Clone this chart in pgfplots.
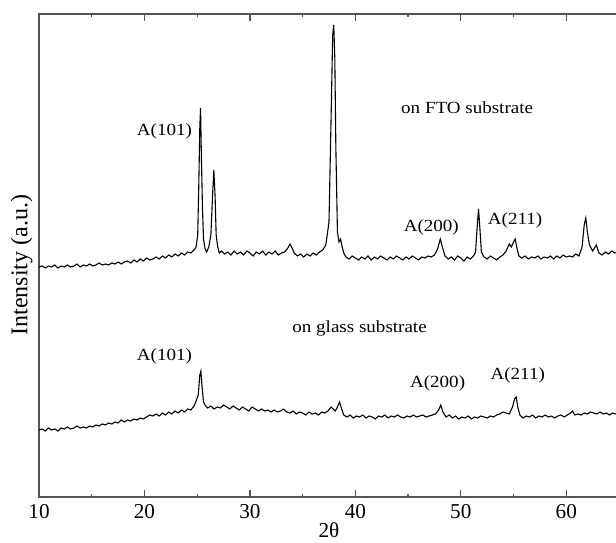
\documentclass[border=0pt]{standalone}
\usepackage{pgfplots}
\pgfplotsset{compat=1.18}
\usepackage{fontspec}
\setmainfont{Liberation Serif}
\newfontfamily\annfont{Liberation Serif}[FakeStretch=1.12]
\definecolor{axisgray}{HTML}{555555}

% FTO substrate trace (y in pixel units above the lower axis line)
\pgfplotstableread{
x y
10.0 230
10.3 231
10.6 229
10.9 231
11.2 230
11.5 232
11.8 229
12.1 231
12.4 230
12.7 232
13.0 230
13.3 231
13.6 233
13.9 230
14.2 232
14.5 231
14.8 233
15.1 231
15.4 232
15.7 234
16.0 232
16.3 233
16.6 232
16.9 234
17.2 233
17.5 235
17.8 233
18.1 235
18.4 236
18.7 234
19.0 237
19.3 235
19.6 238
19.9 236
20.2 239
20.5 237
20.8 238
21.1 240
21.4 238
21.7 241
22.0 239
22.3 242
22.6 240
22.9 243
23.2 241
23.5 244
23.8 242
24.1 245
24.4 244
24.7 247
24.9 250
25.05 262
25.15 310
25.25 370
25.32 389
25.4 340
25.5 290
25.6 258
25.75 248
25.9 245
26.1 250
26.3 262
26.45 300
26.58 327
26.7 300
26.8 262
26.95 250
27.1 244
27.3 246
27.6 243
27.9 245
28.2 242
28.5 246
28.8 243
29.1 245
29.4 242
29.7 246
30.0 244
30.3 241
30.6 245
30.9 243
31.2 246
31.5 242
31.8 245
32.1 243
32.4 246
32.7 242
33.0 244
33.3 245
33.6 249
33.8 253
34.0 249
34.2 244
34.5 241
34.8 243
35.1 240
35.4 243
35.7 241
36.0 244
36.3 242
36.6 245
36.9 247
37.2 252
37.5 275
37.7 380
37.85 462
37.95 472
38.05 440
38.15 350
38.3 265
38.45 255
38.6 258
38.75 250
38.9 244
39.1 240
39.4 238
39.7 241
40.0 239
40.3 237
40.6 240
40.9 238
41.2 241
41.5 237
41.8 240
42.1 238
42.4 241
42.7 239
43.0 237
43.3 240
43.6 238
43.9 241
44.2 239
44.5 237
44.8 240
45.1 238
45.4 241
45.7 239
46.0 237
46.3 240
46.6 239
46.9 241
47.2 240
47.5 242
47.8 248
48.05 258
48.3 248
48.5 241
48.8 238
49.1 240
49.4 237
49.7 241
50.0 239
50.3 236
50.6 240
50.9 238
51.2 241
51.4 245
51.55 270
51.68 288
51.8 270
51.95 245
52.2 240
52.5 238
52.8 241
53.1 239
53.4 237
53.7 240
54.0 242
54.3 246
54.6 253
54.8 250
55.0 255
55.15 258
55.3 250
55.5 241
55.8 239
56.1 241
56.4 238
56.7 240
57.0 239
57.3 241
57.6 238
57.9 240
58.2 239
58.5 241
58.8 238
59.1 241
59.4 239
59.7 242
60.0 240
60.3 241
60.6 240
60.9 243
61.2 241
61.5 250
61.7 272
61.85 279
62.0 265
62.2 252
62.5 246
62.85 252
63.1 244
63.4 242
63.7 245
64.0 243
64.3 246
64.6 244
65.0 245
}\fto

% glass substrate trace
\pgfplotstableread{
x y
10.0 67
10.3 68
10.6 66
10.9 69
11.2 67
11.5 68
11.8 66
12.1 69
12.4 68
12.7 70
13.0 68
13.3 69
13.6 71
13.9 69
14.2 70
14.5 69
14.8 71
15.1 70
15.4 72
15.7 71
16.0 73
16.3 72
16.6 74
16.9 73
17.2 75
17.5 74
17.8 77
18.1 75
18.4 77
18.7 76
19.0 78
19.3 77
19.6 79
19.9 78
20.2 80
20.5 82
20.8 81
21.1 83
21.4 81
21.7 84
22.0 82
22.3 85
22.6 83
22.9 86
23.2 84
23.5 87
23.8 85
24.1 88
24.4 87
24.7 91
24.9 96
25.1 102
25.25 122
25.35 126
25.45 112
25.6 95
25.8 91
26.0 89
26.3 91
26.6 88
26.9 90
27.2 89
27.5 92
27.8 90
28.1 88
28.4 91
28.7 89
29.0 87
29.3 90
29.6 88
29.9 86
30.2 90
30.5 88
30.8 86
31.1 88
31.4 86
31.7 87
32.0 85
32.3 87
32.6 85
32.9 86
33.2 88
33.5 85
33.8 84
34.1 86
34.4 83
34.7 85
35.0 84
35.3 82
35.6 85
35.9 83
36.2 84
36.5 82
36.8 85
37.1 84
37.4 86
37.7 90
37.9 88
38.1 86
38.3 90
38.5 95
38.7 88
38.9 82
39.2 80
39.5 82
39.8 79
40.1 81
40.4 80
40.7 82
41.0 79
41.3 81
41.6 80
41.9 78
42.2 81
42.5 80
42.8 82
43.1 79
43.4 81
43.7 80
44.0 82
44.3 80
44.6 79
44.9 81
45.2 80
45.5 82
45.8 80
46.1 81
46.4 82
46.7 80
47.0 81
47.3 82
47.6 83
47.9 87
48.1 92
48.3 85
48.6 80
48.9 82
49.2 79
49.5 81
49.8 78
50.1 80
50.4 79
50.7 81
51.0 78
51.3 80
51.6 79
51.9 81
52.2 80
52.5 79
52.8 81
53.1 80
53.4 82
53.7 83
54.0 85
54.3 84
54.6 83
54.9 90
55.1 98
55.25 100
55.4 90
55.6 82
55.9 79
56.2 81
56.5 80
56.8 82
57.1 79
57.4 81
57.7 80
58.0 82
58.3 80
58.6 81
58.9 79
59.2 81
59.5 82
59.8 80
60.1 82
60.4 84
60.6 86
60.8 82
61.1 83
61.4 82
61.7 84
62.0 83
62.3 85
62.6 84
62.9 83
63.2 85
63.5 83
63.8 84
64.1 82
64.4 84
64.7 83
65.0 84
}\glass

\begin{document}
\begin{tikzpicture}
\begin{axis}[
    scale only axis,
    width=290pt, height=241.5pt,
    xmin=10, xmax=65, ymin=0, ymax=483,
    xtick={10,20,...,60},
    minor xtick={15,25,...,55},
    ytick=\empty,
    tick align=inside,
    major tick length=3.3pt,
    minor tick length=1.7pt,
    axis line style={axisgray, line width=0.65pt},
    every tick/.style={axisgray, line width=0.65pt},
    tick label style={font=\fontsize{10.6}{12}\selectfont},
    /pgf/number format/assume math mode=true,
    xlabel={2θ},
    xlabel style={font=\fontsize{10.6}{12}\selectfont, at={(axis description cs:0.5,-0.069)}, anchor=center},
    ylabel={Intensity (a.u.)},
    ylabel style={font=\fontsize{12}{14}\selectfont, at={(axis description cs:-0.03,0.48)}, anchor=center},
]
\addplot[black, line width=0.55pt] table[x=x, y=y] {\fto};
\addplot[black, line width=0.55pt] table[x=x, y=y] {\glass};
\begin{scope}[every node/.style={font=\annfont\fontsize{8.5}{10}\selectfont}]
\node at (axis cs:50.6,389) {on FTO substrate};
\node at (axis cs:21.9,366) {A(101)};
\node at (axis cs:47.2,270) {A(200)};
\node at (axis cs:55.15,277) {A(211)};
\node at (axis cs:40.4,169) {on glass substrate};
\node at (axis cs:21.9,141) {A(101)};
\node at (axis cs:47.8,114) {A(200)};
\node at (axis cs:55.4,122) {A(211)};
\end{scope}
\end{axis}
\pgfresetboundingbox
\path[use as bounding box] ([xshift=-19.5pt, yshift=-22.5pt]current axis.south west) rectangle ([xshift=-1.5pt, yshift=7pt]current axis.north east);
\end{tikzpicture}
\end{document}
